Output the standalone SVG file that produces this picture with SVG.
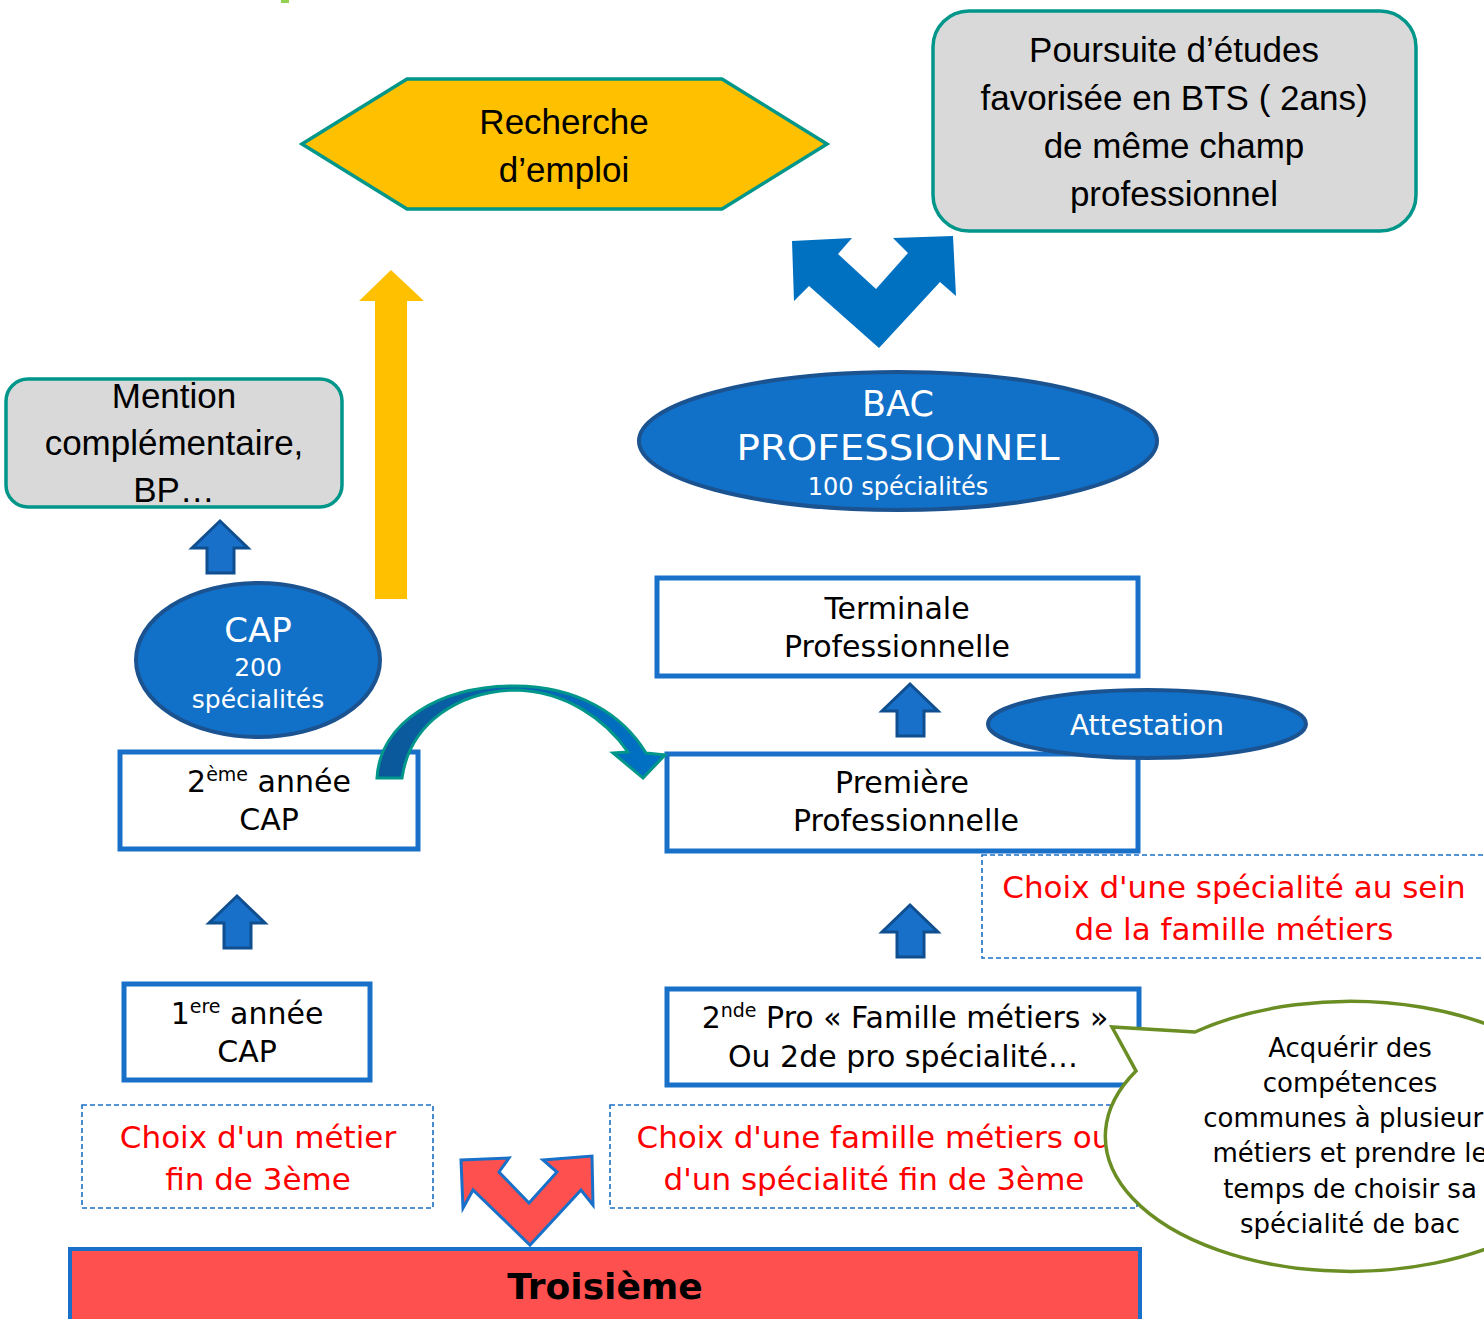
<svg xmlns="http://www.w3.org/2000/svg" width="1484" height="1319" viewBox="0 0 1484 1319">
<style>
.cal{font-family:"Liberation Sans","Open Sans",sans-serif;fill:#000;text-anchor:middle}
.com{font-family:"Comic Sans MS","DejaVu Sans",sans-serif;text-anchor:middle}
.blk{fill:#000;font-size:30px}
.wht{fill:#fff}
.red{fill:#FF0000;font-size:31px}
.box{fill:#fff;stroke:#1870C8;stroke-width:5}
.dash{fill:#fff;stroke:#1870C8;stroke-width:1.6;stroke-dasharray:5 3}
.grey{fill:#D9D9D9;stroke:#00968A;stroke-width:3.5}
.oval{fill:#1170C8;stroke:#1B5391;stroke-width:4}
.up{fill:#1870C8;stroke:#0F4E8F;stroke-width:3}
</style>
<defs>
<path id="upArrow" d="M0,0 L28,27 L14,27 L14,52 L-13,52 L-13,27 L-28,27 Z"/>
<linearGradient id="curveGrad" x1="0" y1="0" x2="1" y2="0">
<stop offset="0" stop-color="#0B5799"/>
<stop offset="1" stop-color="#0072C6"/>
</linearGradient>
</defs>
<rect x="281" y="0" width="8" height="3" fill="#92D050"/>

<g id="recherche">
<polygon points="302,144 407,79 722,79 827,144 722,209 407,209" fill="#FFC000" stroke="#00968A" stroke-width="3.5"/>
<text class="cal" x="564" y="134" font-size="35">Recherche</text>
<text class="cal" x="564" y="182" font-size="35">d’emploi</text>
</g>

<g id="bts">
<rect x="933" y="11" width="483" height="220" rx="36" class="grey"/>
<text class="cal" x="1174" y="62" font-size="35">Poursuite d’études</text>
<text class="cal" x="1174" y="110" font-size="35">favorisée en BTS ( 2ans)</text>
<text class="cal" x="1174" y="158" font-size="35">de même champ</text>
<text class="cal" x="1174" y="206" font-size="35">professionnel</text>
</g>

<g id="mention">
<rect x="6" y="379" width="336" height="128" rx="22" class="grey"/>
<text class="cal" x="174" y="408" font-size="35">Mention</text>
<text class="cal" x="174" y="455" font-size="35">complémentaire,</text>
<text class="cal" x="174" y="502" font-size="35">BP…</text>
</g>

<g id="cap">
<ellipse cx="258" cy="660" rx="122" ry="77" class="oval"/>
<text class="com wht" x="258" y="642" font-size="34">CAP</text>
<text class="com wht" x="258" y="676" font-size="25">200</text>
<text class="com wht" x="258" y="708" font-size="25">spécialités</text>
</g>

<g id="cap2">
<rect x="120" y="752" width="298" height="97" class="box"/>
<text class="com blk" x="269" y="792">2<tspan font-size="19" dy="-11">ème</tspan><tspan dy="11"> année</tspan></text>
<text class="com blk" x="269" y="830">CAP</text>
</g>

<g id="cap1">
<rect x="124" y="984" width="246" height="96" class="box"/>
<text class="com blk" x="247" y="1024">1<tspan font-size="19" dy="-11">ere</tspan><tspan dy="11"> année</tspan></text>
<text class="com blk" x="247" y="1062">CAP</text>
</g>

<g id="choix-metier">
<rect x="82" y="1105" width="351" height="103" class="dash"/>
<text class="com red" x="258" y="1148">Choix d'un métier</text>
<text class="com red" x="258" y="1190">fin de 3ème</text>
</g>

<g id="bac">
<ellipse cx="898" cy="441" rx="259" ry="69" class="oval"/>
<text class="com wht" x="898" y="416" font-size="35">BAC</text>
<text class="com wht" x="898" y="460" font-size="36" textLength="323" lengthAdjust="spacingAndGlyphs">PROFESSIONNEL</text>
<text class="com wht" x="898" y="495" font-size="24">100 spécialités</text>
</g>

<g id="terminale">
<rect x="657" y="578" width="481" height="98" class="box"/>
<text class="com blk" x="897" y="619">Terminale</text>
<text class="com blk" x="897" y="657">Professionnelle</text>
</g>

<g id="premiere">
<rect x="667" y="754" width="471" height="97" class="box"/>
<text class="com blk" x="902" y="793">Première</text>
<text class="com blk" x="906" y="831">Professionnelle</text>
</g>

<g id="attestation">
<ellipse cx="1147" cy="724" rx="159" ry="34" class="oval"/>
<text class="com wht" x="1147" y="735" font-size="28">Attestation</text>
</g>

<g id="choix-specialite">
<rect x="982" y="855" width="510" height="103" class="dash"/>
<text class="com red" x="1234" y="898">Choix d'une spécialité au sein</text>
<text class="com red" x="1234" y="940">de la famille métiers</text>
</g>

<g id="seconde">
<rect x="667" y="989" width="472" height="96" class="box"/>
<text class="com blk" x="905" y="1028">2<tspan font-size="19" dy="-11">nde</tspan><tspan dy="11">  Pro « Famille métiers »</tspan></text>
<text class="com blk" x="903" y="1067">Ou 2de pro spécialité…</text>
</g>

<g id="choix-famille">
<rect x="610" y="1105" width="527" height="103" class="dash"/>
<text class="com red" x="874" y="1148">Choix d'une famille métiers ou</text>
<text class="com red" x="874" y="1190">d'un spécialité fin de 3ème</text>
</g>

<g id="callout">
<path d="M1195,1032 L1112,1027 L1136,1071 A245,135 0 1 0 1195,1032 Z" fill="#fff" stroke="#6A8E23" stroke-width="3.5"/>
<g font-family="'DejaVu Sans','Liberation Sans',sans-serif" font-size="26" text-anchor="middle" fill="#000">
<text x="1350" y="1057">Acquérir des</text>
<text x="1350" y="1092">compétences</text>
<text x="1350" y="1127">communes à plusieurs</text>
<text x="1350" y="1162">métiers et prendre le</text>
<text x="1350" y="1198">temps de choisir sa</text>
<text x="1350" y="1233">spécialité de bac</text>
</g>
</g>

<g id="troisieme">
<rect x="70" y="1249" width="1070" height="72" fill="#FF5050" stroke="#1870C8" stroke-width="4"/>
<text class="com" x="605" y="1299" font-size="36" font-weight="bold" fill="#000">Troisième</text>
</g>

<g id="connectors">
<path id="yellow-arrow" d="M391,270 L424,301 L407,301 L407,599 L375,599 L375,301 L359,301 Z" fill="#FFC000"/>
<path id="blue-double-arrow" d="M792,241 L852,238 L838,254 L876,289 L908,253 L893,238 L953,236 L956,296 L940,282 L879,348 L809,286 L794,301 Z" fill="#0070C0"/>
<path id="red-double-arrow" d="M461,1160 L509,1158 L499,1172 L529,1203 L557,1172 L543,1160 L592,1156 L593,1205 L581,1190 L530,1245 L473,1190 L463,1208 Z" fill="#FF5050" stroke="#1870C8" stroke-width="3" stroke-linejoin="miter"/>
<use href="#upArrow" class="up" transform="translate(220,521)"/>
<use href="#upArrow" class="up" transform="translate(237,896)"/>
<use href="#upArrow" class="up" transform="translate(910,684)"/>
<use href="#upArrow" class="up" transform="translate(910,905)"/>
<path id="curved-arrow" d="M377,778 C380,722 440,686 515,686 C578,686 623,715 646,753 L665,755 L643,778 L613,753 L628,752 C606,720 566,691 515,690 C460,691 410,722 402,778 Z" fill="url(#curveGrad)" stroke="#00968A" stroke-width="3" stroke-linejoin="miter"/>
</g>
</svg>
